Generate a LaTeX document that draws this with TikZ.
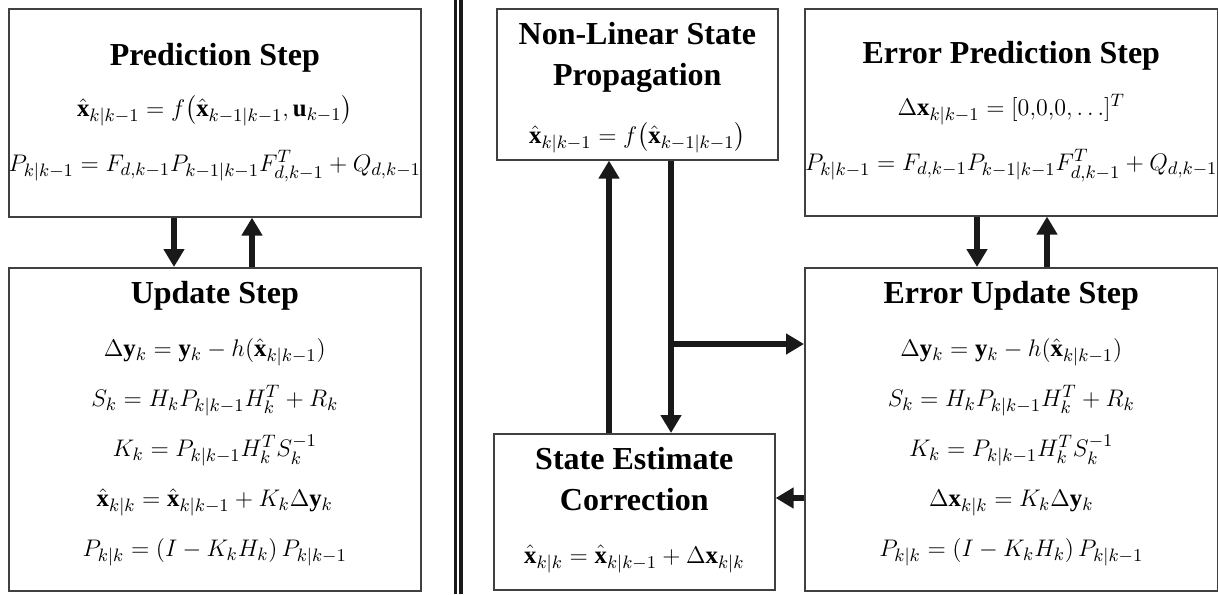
\documentclass[tikz,border=0pt]{standalone}
\usepackage{amsmath}
\usepackage{fontspec}
\setmainfont{Liberation Serif}
\usetikzlibrary{positioning, arrows.meta}
\tikzset{
    blk/.style={draw=black!75, line width=0.8pt, inner sep=0pt, anchor=north west}, % plain block, placed by its corner
    ttl/.style={font=\fontsize{16}{20.5}\selectfont\bfseries, align=center, inner sep=0pt, anchor=base}, % block title
    eqs/.style={font=\fontsize{12.4}{25}\selectfont, align=center, inner sep=0pt}, % stack of equations
    arr/.style={draw=black!90, line width=3pt, -{Triangle[width=10pt,length=9pt]}}, % thick flow arrow
    }
\newcommand{\xh}{\hat{\mathbf{x}}}

\begin{document}
\begin{tikzpicture}[x=1pt, y=-1pt]
\useasboundingbox (0,0) rectangle (609,297);
% left half: EKF
\node[blk, minimum width=206pt, minimum height=104pt] (pred) at (4,4) {};
\node[blk, minimum width=206pt, minimum height=161.5pt] (upd) at (4,133.5) {};
\node[ttl] (predttl) at ([yshift=-28.5pt]pred.north) {Prediction Step};
\node[eqs] (predeq) at ([yshift=-65.5pt]pred.north) {%
    $\xh_{k|k-1} = f\bigl(\xh_{k-1|k-1}, \mathbf{u}_{k-1}\bigr)$\\[2.5pt]
    $P_{k|k-1} = F_{d,k-1}P_{k-1|k-1}F_{d,k-1}^{T} + Q_{d,k-1}$};
\node[ttl] (updttl) at ([yshift=-18pt]upd.north) {Update Step};
\node[eqs] (updeq) at ([yshift=-92.5pt]upd.north) {%
    $\Delta\mathbf{y}_k = \mathbf{y}_k - h(\xh_{k|k-1})$\\
    $S_k = H_k P_{k|k-1} H_k^T + R_k$\\
    $K_k = P_{k|k-1} H_k^T S_k^{-1}$\\
    $\xh_{k|k} = \xh_{k|k-1} + K_k \Delta\mathbf{y}_k$\\
    $P_{k|k} = (I - K_k H_k)\,P_{k|k-1}$};

% separator
\coordinate (septop) at (229,0);
\coordinate (sepbot) at (229,297);
\draw[black!90, line width=1.6pt, double, double distance=1.3pt] (septop) -- (sepbot);

% right half: error-state filter
\node[blk, minimum width=140.5pt, minimum height=75.5pt] (prop) at (248,4) {};
\node[blk, minimum width=140.5pt, minimum height=78pt] (corr) at (246.5,216.5) {};
\node[blk, minimum width=206.5pt, minimum height=103.5pt] (epred) at (402,4) {};
\node[blk, minimum width=206.5pt, minimum height=161.5pt] (eupd) at (402,133.5) {};

\node[ttl] (propttl) at ([yshift=-38.5pt]prop.north) {Non-Linear State\\Propagation};
\node[eqs] (propeq) at ([yshift=-65pt]prop.north) {$\xh_{k|k-1} = f\bigl(\xh_{k-1|k-1}\bigr)$};
\node[ttl] (corrttl) at ([yshift=-38.5pt]corr.north) {State Estimate\\Correction};
\node[eqs] (correq) at ([yshift=-63pt]corr.north) {$\xh_{k|k} = \xh_{k|k-1} + \Delta\mathbf{x}_{k|k}$};
\node[ttl] (epredttl) at ([yshift=-27.5pt]epred.north) {Error Prediction Step};
\node[eqs] (epredeq) at ([yshift=-65pt]epred.north) {%
    $\Delta\mathbf{x}_{k|k-1} = [0{,}0{,}0, \ldots]^T$\\[2.5pt]
    $P_{k|k-1} = F_{d,k-1}P_{k-1|k-1}F_{d,k-1}^{T} + Q_{d,k-1}$};
\node[ttl] (eupdttl) at ([yshift=-18pt]eupd.north) {Error Update Step};
\node[eqs] (eupdeq) at ([yshift=-92.5pt]eupd.north) {%
    $\Delta\mathbf{y}_k = \mathbf{y}_k - h(\xh_{k|k-1})$\\
    $S_k = H_k P_{k|k-1} H_k^T + R_k$\\
    $K_k = P_{k|k-1} H_k^T S_k^{-1}$\\
    $\Delta\mathbf{x}_{k|k} = K_k \Delta\mathbf{y}_k$\\
    $P_{k|k} = (I - K_k H_k)\,P_{k|k-1}$};

% arrow columns
\coordinate (ca) at (87,0);
\coordinate (cb) at (126,0);
\coordinate (cc) at (304.5,0);
\coordinate (cd) at (335.5,172);
\coordinate (ce) at (488.5,0);
\coordinate (cf) at (523.5,0);
\coordinate (cg) at (0,249);

\draw[arr] (pred.south -| ca) -- (upd.north -| ca);
\draw[arr] (upd.north -| cb) -- (pred.south -| cb);
\draw[arr] (corr.north -| cc) -- (prop.south -| cc);
\draw[arr] (prop.south -| cd) -- (corr.north -| cd);
\draw[arr] (cd) -- (cd -| eupd.west);
\draw[arr] (cg -| eupd.west) -- (cg -| corr.east);
\draw[arr] (epred.south -| ce) -- (eupd.north -| ce);
\draw[arr] (eupd.north -| cf) -- (epred.south -| cf);
\end{tikzpicture}
\end{document}
